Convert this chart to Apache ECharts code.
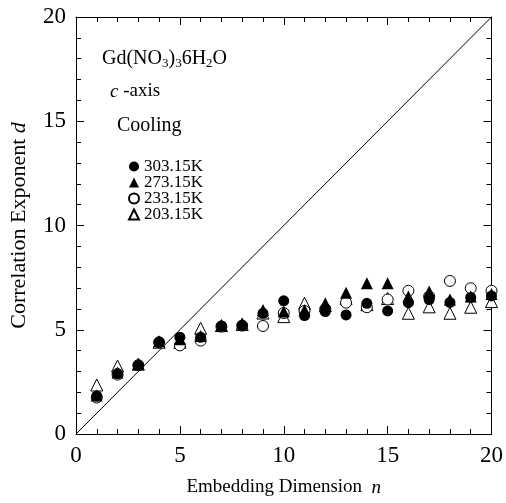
<!DOCTYPE html>
<html>
<head>
<meta charset="utf-8">
<script src="https://cdn.jsdelivr.net/npm/echarts@6/dist/echarts.min.js"></script>
<style>
  html, body { margin: 0; padding: 0; background: #fff; }
  #chart { width: 506px; height: 503px; }
</style>
</head>
<body>
<div id="chart"></div>
<script>
// embedding dimension n
const dims = [1, 2, 3, 4, 5, 6, 7, 8, 9, 10, 11, 12, 13, 14, 15, 16, 17, 18, 19, 20]
// correlation exponent d per temperature
const d303 = [1.82, 2.90, 3.30, 4.40, 4.64, 4.64, 5.18, 5.20, 5.79, 6.39, 5.68, 5.87, 5.71, 6.27, 5.90, 6.30, 6.45, 6.31, 6.55, 6.62]
const d273 = [1.85, 2.95, 3.35, 4.45, 4.55, 4.70, 5.20, 5.30, 5.95, 5.87, 5.95, 6.27, 6.78, 7.23, 7.23, 6.59, 6.83, 6.45, 6.60, 6.72]
const d233 = [1.75, 2.85, 3.30, 4.40, 4.25, 4.48, 5.15, 5.20, 5.18, 5.80, 5.90, 6.00, 6.30, 6.08, 6.45, 6.87, 6.60, 7.34, 6.99, 6.87]
const d203 = [2.35, 3.26, 3.35, 4.40, 4.40, 5.07, 5.20, 5.25, 5.80, 5.63, 6.27, 6.15, 6.50, 6.20, 6.50, 5.79, 6.10, 5.79, 6.08, 6.35]
// diagonal d = n
const diagonal = [[0, 0], [20, 20]]
const axisTicks = [0, 5, 10, 15, 20]

const serif = '"Liberation Serif", "Times New Roman", serif'

function pairs(ys) {
  return dims.map((n, i) => [n, ys[i]])
}

const chart = echarts.init(document.getElementById('chart'))

const baseAxis = {
  type: 'value',
  min: axisTicks[0],
  max: axisTicks[axisTicks.length - 1],
  interval: 5,
  axisLine: { show: true, onZero: false, lineStyle: { color: '#000', width: 1 } },
  axisTick: { show: true, inside: true, length: 8, lineStyle: { color: '#000' } },
  minorTick: { show: true, splitNumber: 5, length: 5, lineStyle: { color: '#000' } },
  splitLine: { show: false },
  axisLabel: { color: '#000', fontFamily: serif, fontSize: 23, margin: 10 }
}

chart.setOption({
  animation: false,
  grid: { left: 75.5, right: 14, top: 17, bottom: 69 },
  xAxis: [
    Object.assign({}, baseAxis, {
      position: 'bottom',
      name: 'Embedding Dimension  {i|n}',
      nameLocation: 'middle',
      nameGap: 44,
      nameTextStyle: {
        color: '#000', fontFamily: serif, fontSize: 19,
        rich: { i: { fontStyle: 'italic', fontFamily: serif, fontSize: 19, color: '#000' } }
      }
    }),
    Object.assign({}, baseAxis, { position: 'top', axisLabel: { show: false } })
  ],
  yAxis: [
    Object.assign({}, baseAxis, {
      position: 'left',
      name: 'Correlation Exponent {i|d}',
      nameLocation: 'middle',
      nameGap: 46,
      nameTextStyle: {
        color: '#000', fontFamily: serif, fontSize: 22,
        rich: { i: { fontStyle: 'italic', fontFamily: serif, fontSize: 22, color: '#000' } }
      }
    }),
    Object.assign({}, baseAxis, { position: 'right', axisLabel: { show: false } })
  ],
  legend: {
    orient: 'vertical',
    left: 123,
    top: 153,
    itemWidth: 10,
    itemHeight: 10,
    itemGap: -1,
    textStyle: { color: '#000', fontFamily: serif, fontSize: 17, lineHeight: 15 },
    data: ['303.15K', '273.15K', '233.15K', '203.15K']
  },
  graphic: [
    {
      type: 'text', left: 102, top: 49,
      style: {
        text: 'Gd(NO{s|3}){s|3}6H{s|2}O',
        fontFamily: serif, fontSize: 20, fill: '#000',
        rich: { s: { fontFamily: serif, fontSize: 13, fill: '#000', padding: [10, 0, 0, 0] } }
      }
    },
    {
      type: 'text', left: 110, top: 82,
      style: {
        text: '{i|c} -axis',
        fontFamily: serif, fontSize: 19, fill: '#000',
        rich: { i: { fontFamily: serif, fontSize: 19, fontStyle: 'italic', fill: '#000' } }
      }
    },
    {
      type: 'text', left: 117, top: 116,
      style: { text: 'Cooling', fontFamily: serif, fontSize: 20, fill: '#000' }
    }
  ],
  series: [
    {
      type: 'line',
      data: diagonal,
      showSymbol: false,
      silent: true,
      lineStyle: { color: '#000', width: 1 },
      z: 1
    },
    {
      name: '203.15K',
      type: 'scatter',
      data: pairs(d203),
      symbol: 'triangle',
      symbolSize: 12,
      itemStyle: { color: '#fff', borderColor: '#000', borderWidth: 1, opacity: 1 }
    },
    {
      name: '233.15K',
      type: 'scatter',
      data: pairs(d233),
      symbol: 'circle',
      symbolSize: 11,
      itemStyle: { color: '#fff', borderColor: '#000', borderWidth: 1, opacity: 1 }
    },
    {
      name: '273.15K',
      type: 'scatter',
      data: pairs(d273),
      symbol: 'triangle',
      symbolSize: 12,
      itemStyle: { color: '#000', opacity: 1 }
    },
    {
      name: '303.15K',
      type: 'scatter',
      data: pairs(d303),
      symbol: 'circle',
      symbolSize: 11,
      itemStyle: { color: '#000', opacity: 1 }
    }
  ]
})
</script>
</body>
</html>
